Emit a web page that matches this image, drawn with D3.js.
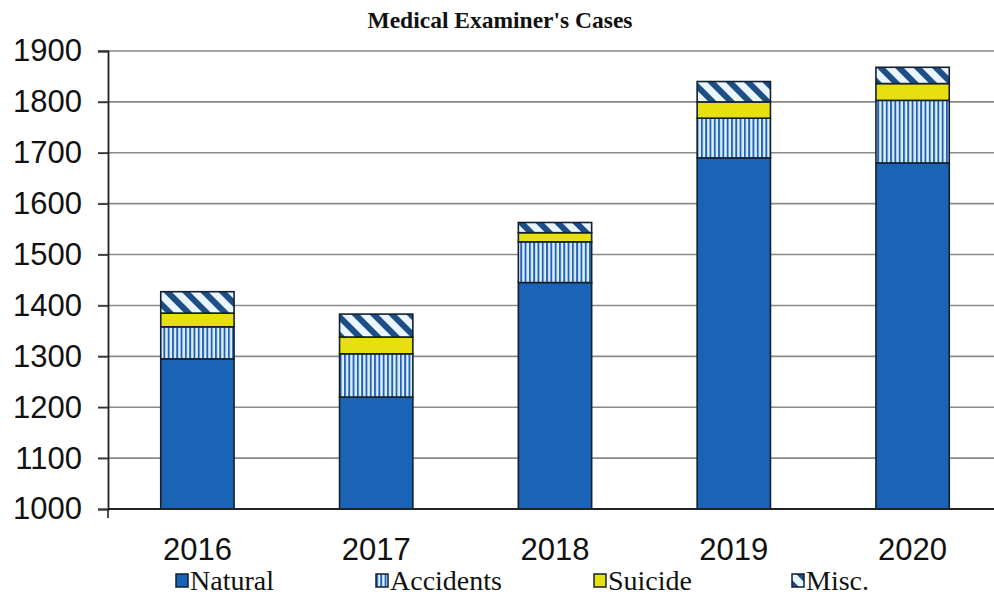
<!DOCTYPE html>
<html>
<head>
<meta charset="utf-8">
<script src="https://cdn.jsdelivr.net/npm/d3@7"></script>
<style>
  html, body { margin: 0; padding: 0; background: #fff; }
  svg { display: block; }
</style>
</head>
<body>
<svg id="chart" width="994" height="599"></svg>
<script>
// Medical examiner cases by year, stacked by manner of death
const years = ["2016", "2017", "2018", "2019", "2020"];
const seriesNames = ["Natural", "Accidents", "Suicide", "Misc."];
const natural   = [1295, 1220, 1445, 1690, 1680];
const accidents = [63, 85, 80, 78, 123];
const suicide   = [27, 33, 18, 32, 33];
const misc      = [42, 45, 20, 40, 32];
const yTicks    = [1000, 1100, 1200, 1300, 1400, 1500, 1600, 1700, 1800, 1900];

const rows = years.map((y, i) => ({
  year: y,
  "Natural": natural[i],
  "Accidents": accidents[i],
  "Suicide": suicide[i],
  "Misc.": misc[i]
}));

const serif = "'Liberation Serif', 'Times New Roman', Times, 'DejaVu Serif', serif";
const sans = "'Liberation Sans', Arial, sans-serif";

const svg = d3.select("#chart");
const margin = { left: 108, right: -8, top: 51, bottom: 90 };
const W = 994, H = 599;

const x = d3.scaleBand().domain(years)
  .range([margin.left, W - margin.right]).paddingInner(0.59).paddingOuter(0.295);
const y = d3.scaleLinear().domain([1000, 1900]).range([H - margin.bottom, margin.top]);

// Fill patterns
const defs = svg.append("defs");
const vp = defs.append("pattern").attr("id", "vstripe")
  .attr("patternUnits", "userSpaceOnUse").attr("width", 4.3).attr("height", 10);
vp.append("rect").attr("width", 4.3).attr("height", 10).attr("fill", "#dcefff");
vp.append("rect").attr("x", 0).attr("width", 1.9).attr("height", 10).attr("fill", "#2262b0");

const dp = defs.append("pattern").attr("id", "dstripe")
  .attr("patternUnits", "userSpaceOnUse").attr("width", 13).attr("height", 13)
  .attr("patternTransform", "rotate(-45)");
dp.append("rect").attr("width", 13).attr("height", 13).attr("fill", "#eaf5ff");
dp.append("rect").attr("x", 0).attr("width", 6).attr("height", 13).attr("fill", "#1d4f86");

const fills = {
  "Natural": "#1b63b6",
  "Accidents": "url(#vstripe)",
  "Suicide": "#e6e010",
  "Misc.": "url(#dstripe)"
};

// Grid lines
svg.append("g").selectAll("line").data(yTicks.filter(t => t > 1000)).join("line")
  .attr("x1", margin.left - 10).attr("x2", W)
  .attr("y1", d => y(d)).attr("y2", d => y(d))
  .attr("stroke", "#8a8a8a").attr("stroke-width", 1.6);

// Bars
const stack = d3.stack().keys(seriesNames);
const layers = stack(rows);
svg.append("g").selectAll("g").data(layers).join("g")
  .attr("fill", d => fills[d.key])
  .selectAll("rect").data(d => d).join("rect")
  .attr("x", d => x(d.data.year))
  .attr("width", x.bandwidth())
  .attr("y", d => y(d[1]))
  .attr("height", d => y(d[0] === 0 ? 1000 : d[0]) - y(d[1]))
  .attr("stroke", "#14202e").attr("stroke-width", 1.6);

// Y axis
const yAxis = d3.axisLeft(y).tickValues(yTicks).tickSize(10).tickFormat(d3.format("d"));
const gy = svg.append("g").attr("transform", `translate(${margin.left},0)`).call(yAxis);
gy.select(".domain").attr("stroke", "#222").attr("stroke-width", 1.8);
gy.selectAll(".tick line").attr("stroke", "#333").attr("stroke-width", 1.6);
gy.selectAll(".tick text")
  .attr("x", -26)
  .attr("fill", "#111")
  .style("font-family", sans)
  .style("font-size", "31px");

// X axis baseline
svg.append("line")
  .attr("x1", margin.left).attr("x2", W)
  .attr("y1", y(1000)).attr("y2", y(1000))
  .attr("stroke", "#222").attr("stroke-width", 1.8);
svg.append("line")
  .attr("x1", margin.left).attr("x2", margin.left)
  .attr("y1", y(1000)).attr("y2", y(1000) + 9)
  .attr("stroke", "#222").attr("stroke-width", 1.6);

// Year labels
svg.append("g").selectAll("text").data(years).join("text")
  .attr("x", d => x(d) + x.bandwidth() / 2)
  .attr("y", 560)
  .attr("text-anchor", "middle")
  .attr("fill", "#111")
  .style("font-family", sans)
  .style("font-size", "31px")
  .text(d => d);

// Title
svg.append("text")
  .attr("x", 500).attr("y", 28)
  .attr("text-anchor", "middle")
  .attr("fill", "#111")
  .style("font-family", serif)
  .style("font-weight", "bold")
  .style("font-size", "23.5px")
  .text("Medical Examiner's Cases");

// Legend
const legendX = [176, 376, 594, 792];
const lg = svg.append("g").selectAll("g").data(seriesNames).join("g")
  .attr("transform", (d, i) => `translate(${legendX[i]},0)`);
lg.append("rect")
  .attr("x", 0).attr("y", 574).attr("width", 12).attr("height", 13)
  .attr("fill", d => fills[d])
  .attr("stroke", "#14202e").attr("stroke-width", 1.5);
lg.append("text")
  .attr("x", 14).attr("y", 590)
  .attr("fill", "#111")
  .style("font-family", serif)
  .style("font-size", "28px")
  .text(d => d);
</script>
</body>
</html>
